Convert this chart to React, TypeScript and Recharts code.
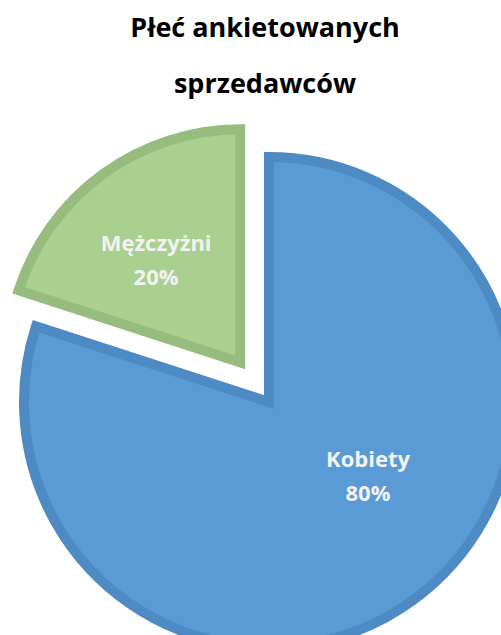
import { PieChart, Pie, Cell } from "recharts";

// data
const categories = ["Mężczyżni", "Kobiety"];
const shares = [20, 80];
const fills = ["#A9D08E", "#5B9BD5"];
const strokes = ["#98BC7D", "#4E8AC3"];

const titleLines = ["Płeć ankietowanych", "sprzedawców"];

const data = categories.map((name, i) => ({ name, value: shares[i] }));

const W = 501;
const H = 635;

// main pie (Kobiety) and the pulled-out slice (Mężczyżni)
const CX = 269;
const CY = 402;
const R_MAIN = 245;
const R_EXPLODED = 233;
const EXPLODE = 49;
const START = 90;
const END = 450;

const RAD = Math.PI / 180;
const total = shares.reduce((a, b) => a + b, 0);
const midAngle0 = START + ((shares[0] / total) * 360) / 2;
const exCX = CX + EXPLODE * Math.cos(midAngle0 * RAD);
const exCY = CY - EXPLODE * Math.sin(midAngle0 * RAD);

// where the label sits: fraction of radius and angle shift from slice middle
const labelPlace = [
  { r: 0.55, shift: 5 },
  { r: 0.52, shift: 15 },
];

const FONT = "'Open Sans', 'DejaVu Sans', sans-serif";

const makeLabel = (only: number) => (props: any) => {
  const { cx, cy, midAngle, outerRadius, index, name, percent } = props;
  if (index !== only) return null;
  const p = labelPlace[index];
  const a = (midAngle + p.shift) * RAD;
  const x = cx + outerRadius * p.r * Math.cos(a);
  const y = cy - outerRadius * p.r * Math.sin(a);
  return (
    <text
      x={x}
      y={y}
      textAnchor="middle"
      fill="#F2F2F2"
      fontFamily={FONT}
      fontWeight={700}
      fontSize={22}
    >
      <tspan x={x} y={y - 15}>
        {name}
      </tspan>
      <tspan x={x} y={y + 19}>
        {Math.round(percent * 100)}%
      </tspan>
    </text>
  );
};

export default function App() {
  return (
    <div style={{ position: "absolute", left: 0, top: 0, width: W, height: H, background: "#fff", overflow: "hidden" }}>
      <PieChart width={W} height={H} margin={{ top: 0, right: 0, bottom: 0, left: 0 }}>
        <Pie
          data={data}
          dataKey="value"
          nameKey="name"
          cx={CX}
          cy={CY}
          outerRadius={R_MAIN}
          startAngle={START}
          endAngle={END}
          strokeWidth={10}
          label={makeLabel(1)}
          labelLine={false}
          isAnimationActive={false}
        >
          {data.map((d, i) => (
            <Cell key={d.name} fill={i === 1 ? fills[i] : "none"} stroke={i === 1 ? strokes[i] : "none"} />
          ))}
        </Pie>
        <Pie
          data={data}
          dataKey="value"
          nameKey="name"
          cx={exCX}
          cy={exCY}
          outerRadius={R_EXPLODED}
          startAngle={START}
          endAngle={END}
          strokeWidth={10}
          label={makeLabel(0)}
          labelLine={false}
          isAnimationActive={false}
        >
          {data.map((d, i) => (
            <Cell key={d.name} fill={i === 0 ? fills[i] : "none"} stroke={i === 0 ? strokes[i] : "none"} />
          ))}
        </Pie>
      </PieChart>
      <svg width={W} height={120} style={{ position: "absolute", left: 0, top: 0 }}>
        {titleLines.map((t, i) => (
          <text
            key={t}
            x={265}
            y={37 + i * 56}
            textAnchor="middle"
            fontFamily={FONT}
            fontWeight={700}
            fontSize={27}
            fill="#000"
          >
            {t}
          </text>
        ))}
      </svg>
    </div>
  );
}
